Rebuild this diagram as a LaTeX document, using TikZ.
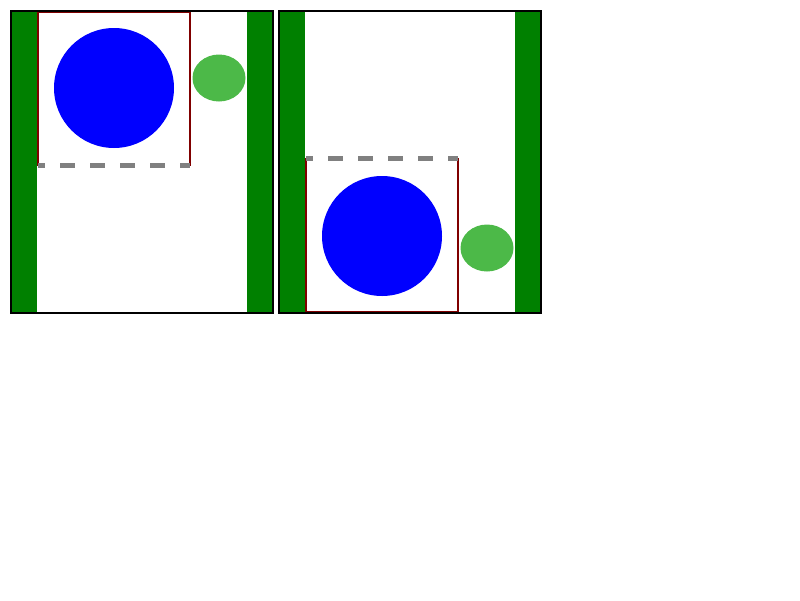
\documentclass[tikz,border=0pt]{standalone}
\usepackage{xcolor}
\usepackage{tikz}
\usetikzlibrary{shapes.geometric}

\definecolor{wallgreen}{RGB}{0,128,0}
\definecolor{blobgreen}{RGB}{76,185,72}
\definecolor{boxred}{RGB}{128,0,0}

\begin{document}
\begin{tikzpicture}[
    x=1pt, y=-1pt,
    frame/.style = {draw=black, line width=2pt},
    wall/.style  = {fill=wallgreen},
    win/.style   = {draw=boxred, line width=1.5pt},
    ball/.style  = {circle, fill=blue, inner sep=0pt, minimum size=120pt},
    blob/.style  = {ellipse, fill=blobgreen, inner sep=0pt,
                    minimum width=53pt, minimum height=47pt},
    edge/.style  = {draw=gray, line width=4.5pt, dash pattern=on 15pt off 15pt,
                    dash phase=8pt},
]
\useasboundingbox (0,0) rectangle (800,600);

%--- left panel: window at the top
\fill[wall] (11,11) rectangle (37,313);
\fill[wall] (247,11) rectangle (273,313);
\coordinate (edgeLa) at (38,165.5);
\coordinate (edgeLb) at (190,165.5);
\draw[win] (edgeLa) -- (38,12) -- (190,12) -- (edgeLb);
\node[ball] (ballL) at (114,88) {};
\node[blob] (blobL) at (219,78) {};
\draw[edge] (edgeLa) -- (edgeLb);
\draw[frame] (11,11) rectangle (273,313);

%--- right panel: window at the bottom
\fill[wall] (279,11) rectangle (305,313);
\fill[wall] (515,11) rectangle (541,313);
\coordinate (edgeRa) at (306,158.3);
\coordinate (edgeRb) at (458,158.3);
\draw[win] (edgeRa) -- (306,312) -- (458,312) -- (edgeRb);
\node[ball] (ballR) at (382,236) {};
\node[blob] (blobR) at (487,248) {};
\draw[edge] (edgeRa) -- (edgeRb);
\draw[frame] (279,11) rectangle (541,313);

\end{tikzpicture}
\end{document}
